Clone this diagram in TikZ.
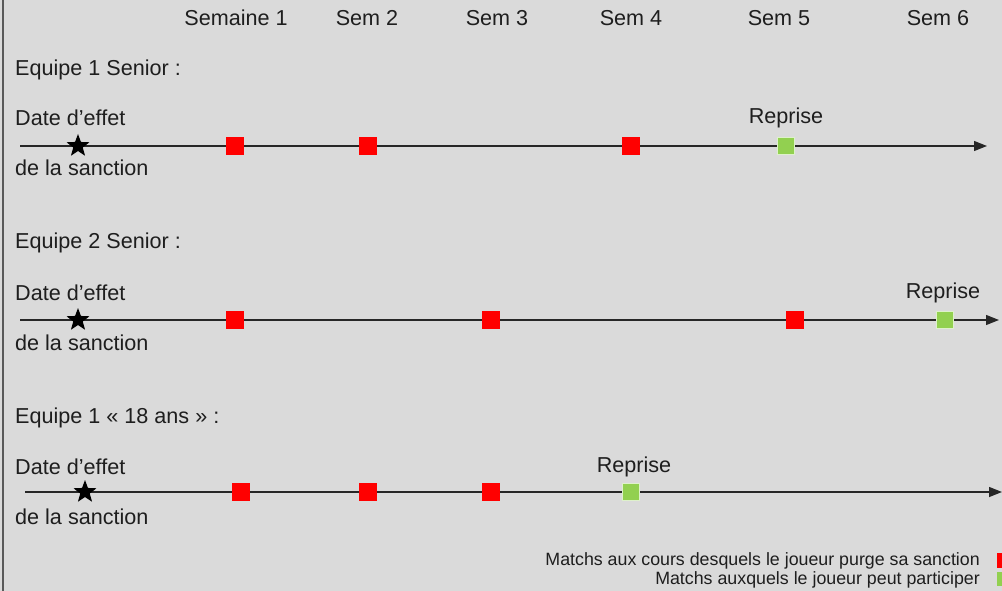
\documentclass[tikz,border=0pt]{standalone}
\usepackage{fontspec}
\setmainfont{Liberation Sans}
\usetikzlibrary{arrows.meta,shapes.geometric}
\definecolor{bg}{HTML}{DADADA}
\definecolor{txt}{HTML}{1E1E1E}
\definecolor{redsq}{HTML}{FF0000}
\definecolor{greensq}{HTML}{92D050}
\tikzset{
  lbl/.style={inner sep=0pt, text=txt, font=\fontsize{21.6}{24}\selectfont},
  leftlbl/.style={lbl, anchor=west},
  leg/.style={inner sep=0pt, text=txt, font=\fontsize{17.8}{20}\selectfont, anchor=east},
  timeline/.style={line width=1.4pt, draw=black!85, -{Triangle[length=13pt,width=10pt]}},
  redbox/.style={fill=redsq, minimum size=18pt, inner sep=0pt},
  greenbox/.style={fill=greensq, draw=white!70!greensq, line width=1pt, minimum size=17pt, inner sep=0pt},
  startstar/.style={star, star points=5, star point ratio=2.4, fill=black, minimum size=24pt, inner sep=0pt},
}
\begin{document}
\begin{tikzpicture}[x=1pt,y=-1pt]
\useasboundingbox (0,0) rectangle (1002,591);
\fill[bg] (0,0) rectangle (1002,591);
\draw[line width=2pt, draw=black!65] (2.5,0) -- (2.5,591);

% week headers
\node[lbl] (w1) at (236,18) {Semaine 1};
\node[lbl] (w2) at (367,18) {Sem 2};
\node[lbl] (w3) at (497,18) {Sem 3};
\node[lbl] (w4) at (631,18) {Sem 4};
\node[lbl] (w5) at (779,18) {Sem 5};
\node[lbl] (w6) at (938,18) {Sem 6};

% Row 1
\node[leftlbl] (t1) at (15,70) {Equipe 1 Senior :};
\node[leftlbl] (d1) at (15,118) {Date d’effet};
\node[leftlbl] (s1l) at (15,168) {de la sanction};
\coordinate (a1) at (20,146);
\coordinate (b1) at (987,146);
\draw[timeline] (a1) -- (b1);
\node[startstar] (st1) at (78,146) {};
\node[redbox] (r11) at (235,146) {};
\node[redbox] (r12) at (368,146) {};
\node[redbox] (r13) at (631,146) {};
\node[greenbox] (g1) at (786,146) {};
\node[lbl] (rp1) at (786,118) {Reprise};

% Row 2
\node[leftlbl] (t2) at (15,243) {Equipe 2 Senior :};
\node[leftlbl] (d2) at (15,293) {Date d’effet};
\node[leftlbl] (s2l) at (15,343) {de la sanction};
\coordinate (a2) at (20,320);
\coordinate (b2) at (999,320);
\draw[timeline] (a2) -- (b2);
\node[startstar] (st2) at (78,320) {};
\node[redbox] (r21) at (235,320) {};
\node[redbox] (r22) at (491,320) {};
\node[redbox] (r23) at (795,320) {};
\node[greenbox] (g2) at (945,320) {};
\node[lbl] (rp2) at (943,293) {Reprise};

% Row 3
\node[leftlbl] (t3) at (15,418) {Equipe 1 « 18 ans » :};
\node[leftlbl] (d3) at (15,467) {Date d’effet};
\node[leftlbl] (s3l) at (15,517) {de la sanction};
\coordinate (a3) at (25,492);
\coordinate (b3) at (1002,492);
\draw[timeline] (a3) -- (b3);
\node[startstar] (st3) at (85,492) {};
\node[redbox] (r31) at (241,492) {};
\node[redbox] (r32) at (368,492) {};
\node[redbox] (r33) at (491,492) {};
\node[greenbox] (g3) at (631,492) {};
\node[lbl] (rp3) at (634,467) {Reprise};

% Legend
\node[leg] (l1) at (980,561) {Matchs aux cours desquels le joueur purge sa sanction};
\node[leg] (l2) at (980,580) {Matchs auxquels le joueur peut participer};
\node[fill=redsq, minimum width=12pt, minimum height=15pt, inner sep=0pt] (lr) at (1003,560) {};
\node[fill=greensq, minimum width=12pt, minimum height=14pt, inner sep=0pt] (lg) at (1003,579) {};
\end{tikzpicture}
\end{document}
